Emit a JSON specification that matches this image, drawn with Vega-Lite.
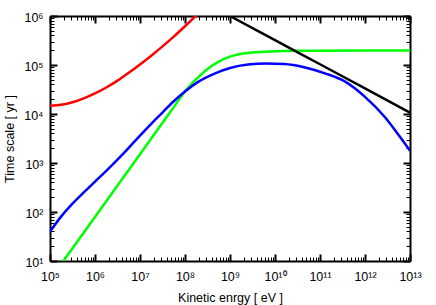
{
  "$schema": "https://vega.github.io/schema/vega-lite/v6.json",
  "width": 360,
  "height": 245,
  "autosize": {"type": "none"},
  "padding": {"left": 50, "top": 16, "right": 26, "bottom": 44},
  "background": "white",
  "data": {"values": [
    {"s": "red", "E": 1e5, "t": 1.48e4},
    {"s": "red", "E": 1.778e5, "t": 1.55e4},
    {"s": "red", "E": 3.162e5, "t": 1.74e4},
    {"s": "red", "E": 5.623e5, "t": 2.09e4},
    {"s": "red", "E": 1e6, "t": 2.63e4},
    {"s": "red", "E": 1.778e6, "t": 3.47e4},
    {"s": "red", "E": 3.162e6, "t": 4.79e4},
    {"s": "red", "E": 5.623e6, "t": 6.92e4},
    {"s": "red", "E": 1e7, "t": 1.023e5},
    {"s": "red", "E": 1.778e7, "t": 1.55e5},
    {"s": "red", "E": 3.162e7, "t": 2.4e5},
    {"s": "red", "E": 5.623e7, "t": 3.8e5},
    {"s": "red", "E": 1e8, "t": 6.17e5},
    {"s": "red", "E": 1.778e8, "t": 1.02e6},
    {"s": "red", "E": 2.512e8, "t": 1.35e6},
    {"s": "green", "E": 1e5, "t": 4.17},
    {"s": "green", "E": 3.162e5, "t": 18.2},
    {"s": "green", "E": 1e6, "t": 79.4},
    {"s": "green", "E": 3.162e6, "t": 347},
    {"s": "green", "E": 1e7, "t": 1514},
    {"s": "green", "E": 3.162e7, "t": 6607},
    {"s": "green", "E": 5.623e7, "t": 1.38e4},
    {"s": "green", "E": 1e8, "t": 2.88e4},
    {"s": "green", "E": 1.778e8, "t": 5.13e4},
    {"s": "green", "E": 3.162e8, "t": 8.32e4},
    {"s": "green", "E": 5.623e8, "t": 1.175e5},
    {"s": "green", "E": 1e9, "t": 1.48e5},
    {"s": "green", "E": 3.162e9, "t": 1.8e5},
    {"s": "green", "E": 1e10, "t": 1.905e5},
    {"s": "green", "E": 3.162e10, "t": 1.95e5},
    {"s": "green", "E": 1e11, "t": 1.96e5},
    {"s": "green", "E": 1e12, "t": 1.97e5},
    {"s": "green", "E": 1e13, "t": 1.97e5},
    {"s": "blue", "E": 1e5, "t": 39.8},
    {"s": "blue", "E": 1.778e5, "t": 81.3},
    {"s": "blue", "E": 3.162e5, "t": 148},
    {"s": "blue", "E": 5.623e5, "t": 251},
    {"s": "blue", "E": 1e6, "t": 417},
    {"s": "blue", "E": 1.778e6, "t": 692},
    {"s": "blue", "E": 3.162e6, "t": 1175},
    {"s": "blue", "E": 5.623e6, "t": 2042},
    {"s": "blue", "E": 1e7, "t": 3631},
    {"s": "blue", "E": 1.778e7, "t": 6310},
    {"s": "blue", "E": 3.162e7, "t": 1.072e4},
    {"s": "blue", "E": 5.623e7, "t": 1.82e4},
    {"s": "blue", "E": 1e8, "t": 2.88e4},
    {"s": "blue", "E": 2e8, "t": 4.57e4},
    {"s": "blue", "E": 4.68e8, "t": 6.76e4},
    {"s": "blue", "E": 1e9, "t": 8.71e4},
    {"s": "blue", "E": 2.51e9, "t": 1.023e5},
    {"s": "blue", "E": 6.31e9, "t": 1.07e5},
    {"s": "blue", "E": 1.585e10, "t": 1.047e5},
    {"s": "blue", "E": 4.68e10, "t": 8.91e4},
    {"s": "blue", "E": 1.288e11, "t": 6.76e4},
    {"s": "blue", "E": 3.63e11, "t": 4.57e4},
    {"s": "blue", "E": 1e12, "t": 2.24e4},
    {"s": "blue", "E": 2.754e12, "t": 8710},
    {"s": "blue", "E": 6.03e12, "t": 3388},
    {"s": "blue", "E": 1e13, "t": 1778},
    {"s": "black", "E": 8.913e8, "t": 1.06e6},
    {"s": "black", "E": 1e9, "t": 1e6},
    {"s": "black", "E": 1e10, "t": 3.22e5},
    {"s": "black", "E": 1e11, "t": 1.035e5},
    {"s": "black", "E": 1e12, "t": 3.33e4},
    {"s": "black", "E": 1e13, "t": 1.07e4}
  ]},
  "layer": [
    {
      "mark": {"type": "line", "strokeWidth": 2.5, "clip": true, "interpolate": "monotone"},
      "encoding": {
        "x": {"field": "E", "type": "quantitative",
          "scale": {"type": "log", "domain": [1e5, 1e13], "nice": false},
          "axis": {"orient": "bottom",
            "values": [1e5,2e5,3e5,4e5,5e5,6e5,7e5,8e5,9e5,1e6,2e6,3e6,4e6,5e6,6e6,7e6,8e6,9e6,1e7,2e7,3e7,4e7,5e7,6e7,7e7,8e7,9e7,1e8,2e8,3e8,4e8,5e8,6e8,7e8,8e8,9e8,1e9,2e9,3e9,4e9,5e9,6e9,7e9,8e9,9e9,1e10,2e10,3e10,4e10,5e10,6e10,7e10,8e10,9e10,1e11,2e11,3e11,4e11,5e11,6e11,7e11,8e11,9e11,1e12,2e12,3e12,4e12,5e12,6e12,7e12,8e12,9e12,1e13],
            "tickSize": {"condition": {"test": "abs(log(datum.value) / LN10 - round(log(datum.value) / LN10)) < 0.000001", "value": -7}, "value": -4},
            "tickWidth": {"condition": {"test": "abs(log(datum.value) / LN10 - round(log(datum.value) / LN10)) < 0.000001", "value": 2}, "value": 1},
            "tickColor": "black",
            "domainWidth": 2, "domainColor": "black",
            "labelExpr": "abs(log(datum.value) / LN10 - round(log(datum.value) / LN10)) < 0.000001 ? '10' + ['⁰','¹','²','³','⁴','⁵','⁶','⁷','⁸','⁹','¹⁰','¹¹','¹²','¹³'][round(log(datum.value) / LN10)] : ''",
            "labelFont": "Liberation Sans", "labelColor": "black", "labelFontSize": 12.5,
            "labelAlign": "center", "labelBaseline": "top", "labelFlush": false, "labelBound": false, "labelOverlap": false,
            "labelPadding": 16,
            "title": "Kinetic enrgy [ eV ]", "titleFont": "Liberation Sans", "titleColor": "black",
            "titleFontSize": 12.5, "titleFontWeight": "normal", "titleY": 30, "titleBaseline": "top"}},
        "y": {"field": "t", "type": "quantitative",
          "scale": {"type": "log", "domain": [10, 1e6], "nice": false},
          "axis": {"orient": "left",
            "values": [10,20,30,40,50,60,70,80,90,100,200,300,400,500,600,700,800,900,1000,2000,3000,4000,5000,6000,7000,8000,9000,1e4,2e4,3e4,4e4,5e4,6e4,7e4,8e4,9e4,1e5,2e5,3e5,4e5,5e5,6e5,7e5,8e5,9e5,1e6],
            "tickSize": {"condition": {"test": "abs(log(datum.value) / LN10 - round(log(datum.value) / LN10)) < 0.000001", "value": -7}, "value": -4},
            "tickWidth": {"condition": {"test": "abs(log(datum.value) / LN10 - round(log(datum.value) / LN10)) < 0.000001", "value": 2}, "value": 1},
            "tickColor": "black",
            "domainWidth": 2, "domainColor": "black",
            "labelExpr": "abs(log(datum.value) / LN10 - round(log(datum.value) / LN10)) < 0.000001 ? '10' + ['⁰','¹','²','³','⁴','⁵','⁶','⁷','⁸','⁹'][round(log(datum.value) / LN10)] : ''",
            "labelFont": "Liberation Sans", "labelColor": "black", "labelFontSize": 12.5,
            "labelAlign": "right", "labelBaseline": "middle", "labelFlush": false, "labelBound": false, "labelOverlap": false,
            "labelPadding": 14, "labelOffset": 1.5,
            "title": "Time scale [ yr ]", "titleFont": "Liberation Sans", "titleColor": "black",
            "titleFontSize": 12.5, "titleFontWeight": "normal",
            "titleX": -34, "titleAngle": 270, "titleBaseline": "bottom", "titleAlign": "center"}},
        "color": {"field": "s", "type": "nominal",
          "scale": {"domain": ["red", "green", "blue", "black"], "range": ["#ff0000", "#00ff00", "#0000ff", "#000000"]},
          "legend": null}
      }
    },
    {
      "mark": {"type": "point", "opacity": 0},
      "encoding": {
        "x": {"field": "E", "type": "quantitative",
          "scale": {"type": "log", "domain": [1e5, 1e13], "nice": false},
          "axis": {"orient": "top",
            "values": [1e5,2e5,3e5,4e5,5e5,6e5,7e5,8e5,9e5,1e6,2e6,3e6,4e6,5e6,6e6,7e6,8e6,9e6,1e7,2e7,3e7,4e7,5e7,6e7,7e7,8e7,9e7,1e8,2e8,3e8,4e8,5e8,6e8,7e8,8e8,9e8,1e9,2e9,3e9,4e9,5e9,6e9,7e9,8e9,9e9,1e10,2e10,3e10,4e10,5e10,6e10,7e10,8e10,9e10,1e11,2e11,3e11,4e11,5e11,6e11,7e11,8e11,9e11,1e12,2e12,3e12,4e12,5e12,6e12,7e12,8e12,9e12,1e13],
            "tickSize": {"condition": {"test": "abs(log(datum.value) / LN10 - round(log(datum.value) / LN10)) < 0.000001", "value": -7}, "value": -4},
            "tickWidth": {"condition": {"test": "abs(log(datum.value) / LN10 - round(log(datum.value) / LN10)) < 0.000001", "value": 2}, "value": 1},
            "tickColor": "black",
            "domainWidth": 2, "domainColor": "black", "labels": false, "title": null}},
        "y": {"field": "t", "type": "quantitative",
          "scale": {"type": "log", "domain": [10, 1e6], "nice": false},
          "axis": {"orient": "right",
            "values": [10,20,30,40,50,60,70,80,90,100,200,300,400,500,600,700,800,900,1000,2000,3000,4000,5000,6000,7000,8000,9000,1e4,2e4,3e4,4e4,5e4,6e4,7e4,8e4,9e4,1e5,2e5,3e5,4e5,5e5,6e5,7e5,8e5,9e5,1e6],
            "tickSize": {"condition": {"test": "abs(log(datum.value) / LN10 - round(log(datum.value) / LN10)) < 0.000001", "value": -7}, "value": -4},
            "tickWidth": {"condition": {"test": "abs(log(datum.value) / LN10 - round(log(datum.value) / LN10)) < 0.000001", "value": 2}, "value": 1},
            "tickColor": "black",
            "domainWidth": 2, "domainColor": "black", "labels": false, "title": null}}
      }
    }
  ],
  "resolve": {"axis": {"x": "independent", "y": "independent"}},
  "config": {
    "view": {"stroke": null},
    "axis": {"grid": false, "zindex": 1}
  }
}
